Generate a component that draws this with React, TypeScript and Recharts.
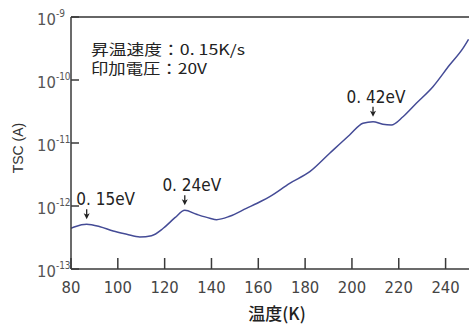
import React from 'react';
import {
  LineChart,
  Line,
  XAxis,
  YAxis,
  ReferenceLine,
  ReferenceDot,
  Customized,
} from 'recharts';

// Temperature (K)
const temps = [
  80, 81.7, 86.7, 92.4, 98, 103.8, 109.4, 114.4, 119.4, 124.4, 128.6, 133.6,
  139.3, 142.2, 147.8, 154.9, 161.4, 164.9, 173.4, 182, 190.5, 199, 204.7, 209,
  213.2, 216.8, 221.8, 227.5, 234.6, 241.7, 247.4, 249.8,
];
// TSC current (A)
const tsc = [
  4.43e-13, 4.69e-13, 5.13e-13, 4.69e-13, 4.01e-13, 3.56e-13, 3.22e-13,
  3.38e-13, 4.43e-13, 6.52e-13, 8.55e-13, 7.38e-13, 6.38e-13, 6.07e-13,
  6.87e-13, 9.18e-13, 1.2e-12, 1.41e-12, 2.29e-12, 3.5e-12, 6.87e-12,
  1.34e-11, 2.06e-11, 2.18e-11, 1.98e-11, 1.93e-11, 2.61e-11, 4.27e-11,
  7.83e-11, 1.73e-10, 3.18e-10, 4.43e-10,
];

const xTicks = [80, 100, 120, 140, 160, 180, 200, 220, 240];
const yTicks = [1e-13, 1e-12, 1e-11, 1e-10, 1e-9];
const yTickExps = ['-13', '-12', '-11', '-10', '-9'];

const peakTemps = [86.7, 128.6, 209];
const peakValues = [5.13e-13, 8.55e-13, 2.18e-11];
const peakLabels = ['0. 15eV', '0. 24eV', '0. 42eV'];

const infoLines = ['昇温速度：0. 15K/s', '印加電圧：20V'];
const xTitle = '温度(K)';
const yTitle = 'TSC (A)';

const data = temps.map((t, i) => ({ t, v: tsc[i] }));

// styles
const NARROW = "'Liberation Sans Narrow', 'DejaVu Sans Condensed', 'Liberation Sans', sans-serif";
const CJK = "'Noto Sans CJK JP', 'Noto Sans', sans-serif";
const AXIS = '#3a3a3a';
const LINE = '#444b96';
const labelDx = [19, 7, 3];
const infoWidths = [154, 116];

const XTick = (props: any) => {
  const { x, y, payload } = props;
  return (
    <g>
      <line x1={x} y1={y} x2={x} y2={y - 11} stroke={AXIS} strokeWidth={1.5} />
      <text
        x={x}
        y={y + 24}
        textAnchor="middle"
        fontFamily={NARROW}
        fontSize={16.5}
        fill="#444"
      >
        {payload.value}
      </text>
    </g>
  );
};

const YTick = (props: any) => {
  const { x, y, payload, index } = props;
  const i = yTicks.indexOf(payload.value);
  const exp = yTickExps[i >= 0 ? i : index];
  return (
    <g>
      <line x1={x} y1={y} x2={x + 8} y2={y} stroke={AXIS} strokeWidth={1.5} />
      <text x={x - 34} y={y + 8} fontFamily={NARROW} fontSize={16.5} fill="#555">
        10
        <tspan fontSize={10} dy={-8}>
          {exp}
        </tspan>
      </text>
    </g>
  );
};

const PeakMark = (i: number) => (props: any) => {
  const { cx, cy } = props;
  return (
    <g>
      <line x1={cx} y1={cy - 15} x2={cx} y2={cy - 9} stroke="#222" strokeWidth={1.3} />
      <path
        d={`M ${cx - 3} ${cy - 11} L ${cx} ${cy - 9.5} L ${cx + 3} ${cy - 11} L ${cx} ${cy - 5} Z`}
        fill="#222"
      />
      <text
        x={cx + labelDx[i]}
        y={cy - 19}
        textAnchor="middle"
        fontFamily={NARROW}
        fontSize={17}
        fill="#222"
      >
        {peakLabels[i]}
      </text>
    </g>
  );
};

const Extras = () => (
  <g>
    {infoLines.map((s, i) => (
      <text
        key={i}
        x={91}
        y={55 + i * 19}
        fontFamily={CJK}
        fontSize={14.5}
        fill="#222"
        textLength={infoWidths[i]}
        lengthAdjust="spacingAndGlyphs"
      >
        {s}
      </text>
    ))}
    <text
      x={18}
      y={148}
      transform="rotate(-90 18 148)"
      textAnchor="middle"
      dominantBaseline="central"
      fontFamily="'Liberation Sans', sans-serif"
      fontSize={14}
      fill="#333"
    >
      {yTitle}
    </text>
    <text
      x={277}
      y={320}
      textAnchor="middle"
      fontFamily={CJK}
      fontSize={17}
      fontWeight={500}
      fill="#222"
    >
      {xTitle}
    </text>
  </g>
);

export default function App() {
  return (
    <div style={{ position: 'absolute', left: 0, top: 0, background: '#fff' }}>
      <LineChart
        width={469}
        height={326}
        data={data}
        margin={{ top: 17, right: 0, bottom: 0, left: 0 }}
      >
        <XAxis
          dataKey="t"
          type="number"
          domain={[80, 250]}
          ticks={xTicks}
          allowDataOverflow
          height={57}
          tickSize={0}
          tickMargin={0}
          tick={<XTick />}
          axisLine={{ stroke: AXIS, strokeWidth: 1.5 }}
          interval={0}
        />
        <YAxis
          dataKey="v"
          type="number"
          scale="log"
          domain={[1e-13, 1e-9]}
          ticks={yTicks}
          allowDataOverflow
          width={71}
          tickSize={0}
          tickMargin={0}
          tick={<YTick />}
          axisLine={{ stroke: AXIS, strokeWidth: 1.5 }}
          interval={0}
        />
        <ReferenceLine y={1e-9} stroke="#666" strokeWidth={2} />
        <Line
          type="monotone"
          dataKey="v"
          stroke={LINE}
          strokeWidth={1.5}
          dot={false}
          isAnimationActive={false}
        />
        {peakTemps.map((t, i) => (
          <ReferenceDot
            key={i}
            x={t}
            y={peakValues[i]}
            r={0}
            shape={PeakMark(i)}
            ifOverflow="visible"
          />
        ))}
        <Customized component={Extras} />
      </LineChart>
    </div>
  );
}
